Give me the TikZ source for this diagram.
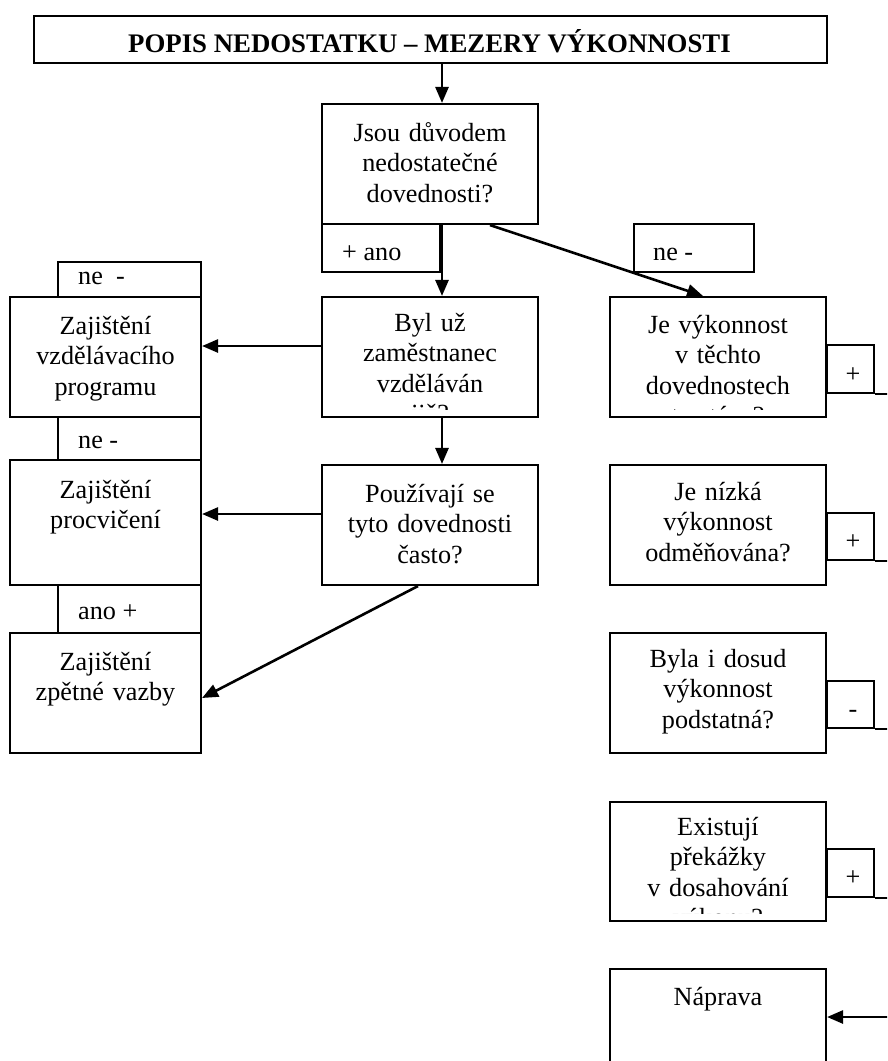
\documentclass[tikz,border=0pt]{standalone}
\usepackage{fontspec}
\setmainfont{Liberation Serif}
\usetikzlibrary{arrows.meta}
\newcommand\mybox[5]{\node[box,minimum width={(#4-#2)*1pt},minimum height={(#5-#3)*1pt}] (#1) at ({(#2+#4)/2},{(#3+#5)/2}) {};}
\begin{document}
\begin{tikzpicture}[x=1pt,y=-1pt,
  box/.style={draw,line width=2.1pt,inner sep=0pt,rectangle},
  txt/.style={anchor=base,align=center,text width=214pt,inner sep=0pt,font=\fontsize{26.2}{30.5}\selectfont},
  lab/.style={anchor=base west,inner sep=0pt,font=\fontsize{26.2}{30.5}\selectfont},
  sgn/.style={anchor=base,inner sep=0pt,font=\fontsize{26.2}{30.5}\selectfont},
  arr/.style={line width=2.6pt,-{Triangle[length=16pt,width=13pt]}},
  ln/.style={line width=2.1pt}]
\useasboundingbox (0,0) rectangle (887,1061);
\clip (0,0) rectangle (887,1061);
\fill[white] (0,0) rectangle (887,1061);

% helper coordinates
\coordinate (cx) at (442,0);
\coordinate (dxa) at (490,0);
\coordinate (dxb) at (703,0);
\coordinate (dxc) at (418,0);
\coordinate (ya) at (0,346);
\coordinate (yb) at (0,514);
\coordinate (yc) at (0,698);
\coordinate (yd) at (0,1017);
\coordinate (edge) at (892,0);

% title
\mybox{title}{34}{16}{827}{63}
\node[sgn,font=\bfseries\fontsize{26.8}{30}\selectfont] (titlet) at (429.5,52) {POPIS NEDOSTATKU – MEZERY VÝKONNOSTI};

% centre column
\mybox{q1}{322}{104}{538}{224}
\node[txt] (q1t) at (430,141) {Jsou důvodem\\nedostatečné\\dovednosti?};
\mybox{q2}{322}{297}{538}{417}
\begin{scope}
  \clip (322,297) rectangle (538,409);
  \node[txt] (q2t) at (430,331) {Byl už\\zaměstnanec\\vzděláván\\již?};
\end{scope}
\mybox{q3}{322}{465}{538}{585}
\node[txt] (q3t) at (430,502) {Používají se\\tyto dovednosti\\často?};

% labels
\mybox{lano}{322}{224}{440}{272}
\node[lab] (lanot) at (342,260) {+ ano};
\mybox{lne}{634}{224}{754}{272}
\node[lab] (lnet) at (653,260) {ne -};

% left column
\mybox{lne2}{58}{262}{201}{297}
\node[lab] (lne2t) at (78,284) {ne\ \ -};
\mybox{a1}{10}{297}{201}{417}
\node[txt] (a1t) at (105.5,334) {Zajištění\\vzdělávacího\\programu};
\mybox{lne3}{58}{417}{201}{460}
\node[lab] (lne3t) at (78,448) {ne -};
\mybox{a2}{10}{460}{201}{585}
\node[txt] (a2t) at (105.5,498) {Zajištění\\procvičení};
\mybox{lano2}{58}{585}{201}{633}
\node[lab] (lano2t) at (78,619) {ano +};
\mybox{a3}{10}{633}{201}{753}
\node[txt] (a3t) at (105.5,670) {Zajištění\\zpětné vazby};

% right column
\mybox{r1}{610}{297}{826}{417}
\begin{scope}
  \clip (610,297) rectangle (826,409);
  \node[txt] (r1t) at (718,333) {Je výkonnost\\v těchto\\dovednostech\\trestána?};
\end{scope}
\mybox{r2}{610}{465}{826}{585}
\node[txt] (r2t) at (718,500) {Je nízká\\výkonnost\\odměňována?};
\mybox{r3}{610}{633}{826}{753}
\node[txt] (r3t) at (718,667) {Byla i dosud\\výkonnost\\podstatná?};
\mybox{r4}{610}{802}{826}{921}
\begin{scope}
  \clip (610,802) rectangle (826,913);
  \node[txt] (r4t) at (718,835) {Existují\\překážky\\v dosahování\\výkonu?};
\end{scope}
\mybox{r5}{610}{969}{826}{1080}
\node[txt] (r5t) at (718,1005) {Náprava};

% plus / minus boxes
\mybox{p1}{827}{345}{874}{393}
\node[sgn] (p1t) at (853,382) {+};
\mybox{p2}{827}{513}{874}{560}
\node[sgn] (p2t) at (853,549) {+};
\mybox{p3}{827}{681}{874}{728}
\node[sgn] (p3t) at (853,717) {-};
\mybox{p4}{827}{849}{874}{897}
\node[sgn] (p4t) at (853,885) {+};
\draw[ln] (p1.south east) -- (p1.south east -| edge);
\draw[ln] (p2.south east) -- (p2.south east -| edge);
\draw[ln] (p3.south east) -- (p3.south east -| edge);
\draw[ln] (p4.south east) -- (p4.south east -| edge);

% connectors
\draw[arr] (title.south -| cx) -- (q1.north -| cx);
\draw[arr] (q1.south -| cx) -- (q2.north -| cx);
\draw[arr] (q1.south -| dxa) -- (r1.north -| dxb);
\draw[arr] (q2.west |- ya) -- (a1.east |- ya);
\draw[arr] (q2.south -| cx) -- (q3.north -| cx);
\draw[arr] (q3.west |- yb) -- (a2.east |- yb);
\draw[arr] (q3.south -| dxc) -- (a3.east |- yc);
\draw[arr] (edge |- yd) -- (r5.east |- yd);
\end{tikzpicture}
\end{document}
